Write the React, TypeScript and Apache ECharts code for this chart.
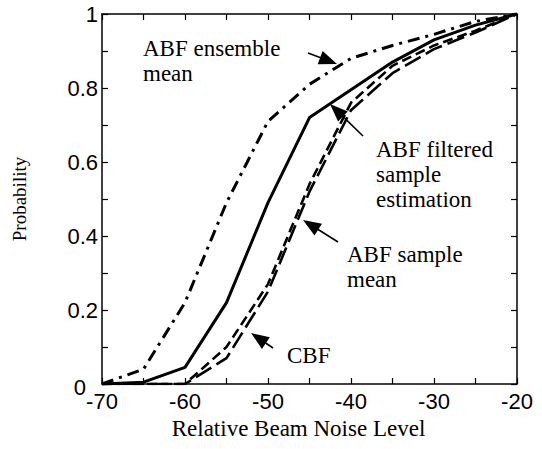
import React, { useEffect, useRef } from "react";
import * as echarts from "echarts";

const noiseLevels = [-70, -65, -60, -55, -50, -45, -40, -35, -30, -25, -20];
const ensembleMean = [0, 0.04, 0.22, 0.49, 0.71, 0.81, 0.88, 0.915, 0.945, 0.98, 1];
const filteredEstimation = [0, 0.005, 0.045, 0.22, 0.49, 0.72, 0.795, 0.87, 0.93, 0.97, 1];
const sampleMean = [0, 0, 0, 0.1, 0.27, 0.54, 0.76, 0.86, 0.915, 0.955, 1];
const cbf = [0, 0, 0, 0.07, 0.25, 0.52, 0.74, 0.84, 0.905, 0.95, 1];

const seriesNames = ["ABF ensemble mean", "ABF filtered sample estimation", "ABF sample mean", "CBF"];
const annotationTexts = ["ABF ensemble\nmean", "ABF filtered\nsample\nestimation", "ABF sample\nmean", "CBF"];

const SERIF = "Liberation Serif";
const SANS = "Liberation Sans";

function pairs(ys: number[]) {
  return noiseLevels.map((x, i) => [x, ys[i]]);
}

function arrow(tail: [number, number], tip: [number, number]) {
  const dx = tip[0] - tail[0];
  const dy = tip[1] - tail[1];
  const len = Math.sqrt(dx * dx + dy * dy);
  const ux = dx / len;
  const uy = dy / len;
  const headLen = 18;
  const headHalf = 7;
  const bx = tip[0] - ux * headLen;
  const by = tip[1] - uy * headLen;
  return [
    {
      type: "line",
      shape: { x1: tail[0], y1: tail[1], x2: bx + ux * 2, y2: by + uy * 2 },
      style: { stroke: "#000", lineWidth: 1.6 },
      silent: true,
    },
    {
      type: "polygon",
      shape: {
        points: [
          [tip[0], tip[1]],
          [bx - uy * headHalf, by + ux * headHalf],
          [bx + uy * headHalf, by - ux * headHalf],
        ],
      },
      style: { fill: "#000" },
      silent: true,
    },
  ];
}

function note(text: string, left: number, firstBaseline: number) {
  return {
    text,
    left,
    top: firstBaseline - 20.5,
    padding: 0,
    itemGap: 0,
    textStyle: {
      fontFamily: SERIF,
      fontSize: 23,
      fontWeight: "normal",
      color: "#000",
      lineHeight: 25,
    },
  };
}

export default function App() {
  const ref = useRef<HTMLDivElement>(null);

  useEffect(() => {
    document.body.style.margin = "0";
    if (!ref.current) return;
    const chart = echarts.init(ref.current, undefined, { renderer: "svg" });

    const axisCommon = {
      type: "value" as const,
      axisLine: { show: true, onZero: false, lineStyle: { color: "#000", width: 1.5 } },
      axisTick: { show: true, inside: true, length: 6, lineStyle: { color: "#000", width: 1.2 } },
      splitLine: { show: false },
    };

    const option = {
      animation: false,
      backgroundColor: "#fff",
      title: [
        note(annotationTexts[0], 143, 56),
        note(annotationTexts[1], 376, 157),
        note(annotationTexts[2], 347, 262),
        note(annotationTexts[3], 287, 363),
      ],
      grid: { left: 102, right: 25, top: 14, bottom: 65, containLabel: false },
      xAxis: [
        {
          ...axisCommon,
          min: -70,
          max: -20,
          interval: 5,
          position: "bottom",
          name: "Relative Beam Noise Level",
          nameLocation: "middle",
          nameGap: 24,
          nameTextStyle: { fontFamily: SERIF, fontSize: 23, color: "#000", padding: [0, 22, 0, 0] },
          axisLabel: {
            color: "#000",
            fontFamily: SANS,
            fontSize: 22,
            margin: 6,
            formatter: (v: number) => (Math.round(v) % 10 === 0 ? String(Math.round(v)) : ""),
          },
        },
        {
          ...axisCommon,
          min: -70,
          max: -20,
          interval: 5,
          position: "top",
          axisLabel: { show: false },
        },
      ],
      yAxis: [
        {
          ...axisCommon,
          min: 0,
          max: 1,
          interval: 0.1,
          position: "left",
          name: "Probability",
          nameLocation: "middle",
          nameGap: 73,
          nameRotate: 90,
          nameTextStyle: { fontFamily: SERIF, fontSize: 19, color: "#000" },
          axisLabel: {
            color: "#000",
            fontFamily: SANS,
            fontSize: 22,
            margin: 4,
            formatter: (v: number) => {
              const t = Math.round(v * 10);
              if (t % 2 !== 0) return "";
              if (t === 0) return "{z|0}";
              if (t === 10) return "1";
              return (t / 10).toFixed(1);
            },
            rich: {
              z: { fontFamily: SANS, fontSize: 22, color: "#000", padding: [6, 12, 0, 0] },
            },
          },
        },
        {
          ...axisCommon,
          min: 0,
          max: 1,
          interval: 0.1,
          position: "right",
          axisLabel: { show: false },
        },
      ],
      series: [
        {
          name: seriesNames[0],
          type: "line",
          data: pairs(ensembleMean),
          showSymbol: false,
          symbol: "none",
          lineStyle: { color: "#000", width: 3, type: [12, 6, 3, 6] },
        },
        {
          name: seriesNames[1],
          type: "line",
          data: pairs(filteredEstimation),
          showSymbol: false,
          symbol: "none",
          lineStyle: { color: "#000", width: 3, type: "solid" },
        },
        {
          name: seriesNames[2],
          type: "line",
          data: pairs(sampleMean),
          showSymbol: false,
          symbol: "none",
          lineStyle: { color: "#000", width: 2.6, type: [10, 5] },
        },
        {
          name: seriesNames[3],
          type: "line",
          data: pairs(cbf),
          showSymbol: false,
          symbol: "none",
          lineStyle: { color: "#000", width: 2.6, type: [18, 6] },
        },
      ],
      graphic: [
        ...arrow([308, 53], [337, 64]),
        ...arrow([363, 136], [330, 104]),
        ...arrow([338, 242], [303, 220]),
        ...arrow([273, 348], [251, 333]),
      ],
    };

    chart.setOption(option as any);
    return () => {
      chart.dispose();
    };
  }, []);

  return <div ref={ref} style={{ width: 542, height: 449 }} />;
}
